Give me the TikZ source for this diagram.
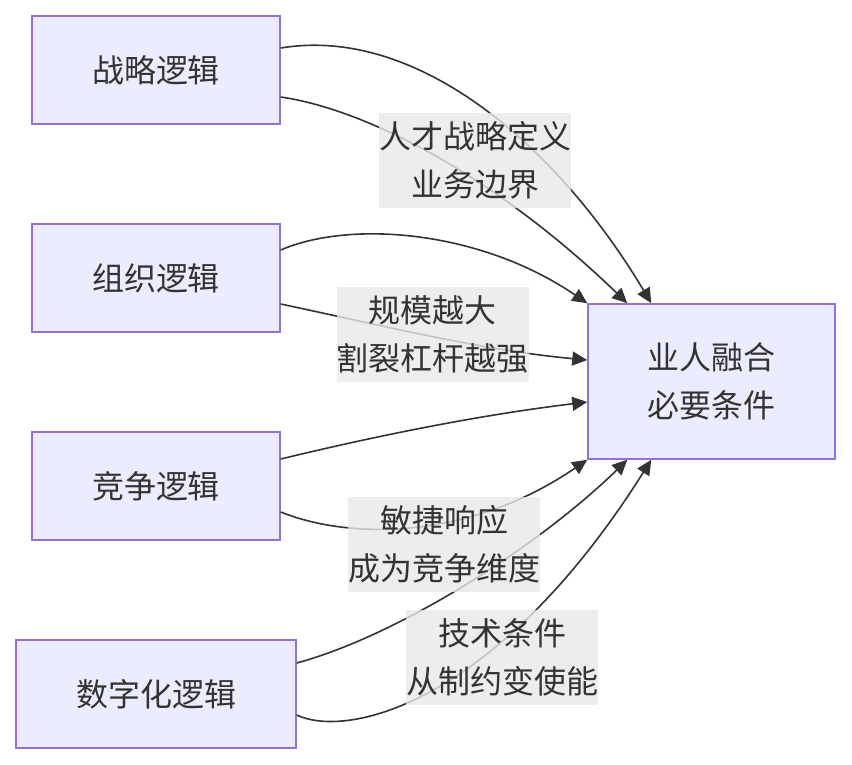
\documentclass[tikz,border=0pt]{standalone}
\usepackage{fontspec}
\setmainfont{Noto Sans CJK SC}
\usetikzlibrary{arrows.meta}
\definecolor{nodefill}{RGB}{236,236,255}
\definecolor{nodeline}{RGB}{147,112,219}
\definecolor{edgeink}{RGB}{51,51,51}
\definecolor{labelbg}{RGB}{232,232,232}

\begin{document}
\begin{tikzpicture}[x=1pt,y=-1pt,
    logic/.style={draw=nodeline,fill=nodefill,line width=1.5pt,text=edgeink,
      minimum height=108pt,inner sep=0pt,font=\fontsize{32}{48}\selectfont,align=center},
    link/.style={draw=edgeink,line width=1.6pt,-{Triangle[length=15pt,width=14pt]}},
    tag/.style={fill=labelbg,fill opacity=0.8,text opacity=1,text=edgeink,inner sep=0pt,
      minimum width=192pt,minimum height=95pt,font=\fontsize{32}{48}\selectfont,align=center}]
    \useasboundingbox (0,0) rectangle (852,764);
    % four driving logics on the left
    \foreach \n/\t/\y/\w in {zl/战略逻辑/70/248, zz/组织逻辑/278/248,
      jz/竞争逻辑/486/248, szh/数字化逻辑/694/280}
      \node[logic,minimum width=\w pt] (\n) at (156,\y) {\t};
    \node[logic,minimum width=247pt,minimum height=155pt] (yr) at (711.5,381.5) {业人融合\\必要条件};
    % connectors
    \draw[link] ([yshift=22pt]zl.east) .. controls (420,25) and (560,150) .. ([xshift=64pt]yr.north west);
    \draw[link] ([yshift=-27pt]zl.east) .. controls (370,110) and (500,180) .. ([xshift=40pt]yr.north west);
    \draw[link] ([yshift=28pt]zz.east) .. controls (350,220) and (480,230) .. (yr.north west);
    \draw[link] ([yshift=-26pt]zz.east) .. controls (380,325) and (480,350) .. ([yshift=21.5pt]yr.west);
    \draw[link] ([yshift=27pt]jz.east) .. controls (380,435) and (480,415) .. ([yshift=-20.5pt]yr.west);
    \draw[link] ([yshift=-26pt]jz.east) .. controls (350,540) and (470,540) .. (yr.south west);
    \draw[link] ([yshift=31pt]szh.east) .. controls (400,635) and (540,545) .. ([xshift=40pt]yr.south west);
    \draw[link] ([yshift=-21pt]szh.east) .. controls (350,740) and (500,700) .. ([xshift=64pt]yr.south west);
    % edge labels
    \node[tag] (t1) at (475,160.5) {人才战略定义\\业务边界};
    \node[tag] (t2) at (432.5,334.5) {规模越大\\割裂杠杆越强};
    \node[tag] (t3) at (444,544.5) {敏捷响应\\成为竞争维度};
    \node[tag] (t4) at (502,657.5) {技术条件\\从制约变使能};
  \end{tikzpicture}
\end{document}
